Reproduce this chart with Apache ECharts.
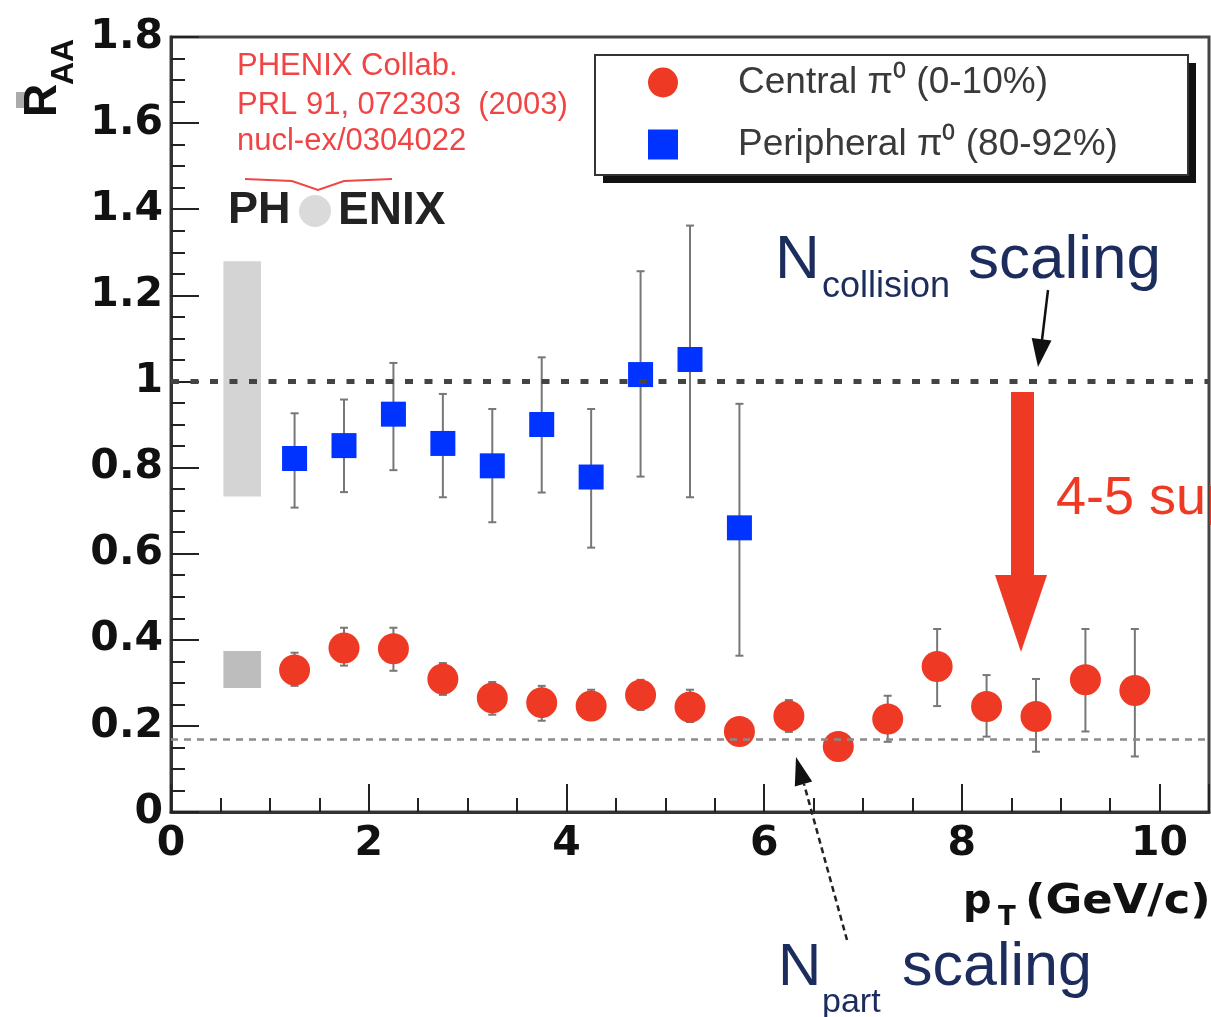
<!DOCTYPE html>
<html>
<head>
<meta charset="utf-8">
<script src="https://cdn.jsdelivr.net/npm/echarts@6/dist/echarts.min.js"></script>
<style>
html, body { margin: 0; padding: 0; background: #fff; }
#chart { width: 1211px; height: 1017px; }
</style>
</head>
<body>
<div id="chart"></div>
<script>
// pT bin centres (GeV/c)
var centralPt = [1.25, 1.75, 2.25, 2.75, 3.25, 3.75, 4.25, 4.75, 5.25, 5.75, 6.25, 6.75, 7.25, 7.75, 8.25, 8.75, 9.25, 9.75];
var centralRaa = [0.330, 0.381, 0.379, 0.309, 0.265, 0.254, 0.246, 0.272, 0.244, 0.187, 0.223, 0.152, 0.216, 0.338, 0.245, 0.222, 0.307, 0.282];
var centralLow = [0.293, 0.340, 0.328, 0.272, 0.226, 0.212, 0.214, 0.237, 0.209, 0.160, 0.186, 0.130, 0.163, 0.246, 0.175, 0.140, 0.187, 0.129];
var centralHigh = [0.370, 0.428, 0.428, 0.346, 0.302, 0.293, 0.284, 0.307, 0.284, 0.215, 0.260, 0.175, 0.270, 0.425, 0.318, 0.309, 0.425, 0.425];

var periphPt = [1.25, 1.75, 2.25, 2.75, 3.25, 3.75, 4.25, 4.75, 5.25, 5.75];
var periphRaa = [0.821, 0.851, 0.924, 0.856, 0.804, 0.900, 0.778, 1.016, 1.051, 0.660];
var periphLow = [0.707, 0.743, 0.794, 0.731, 0.673, 0.742, 0.614, 0.779, 0.731, 0.363];
var periphHigh = [0.926, 0.958, 1.043, 0.971, 0.936, 1.056, 0.936, 1.256, 1.362, 0.948];

// normalisation uncertainty boxes: [xFrom, xTo, yFrom, yTo]
var sysBoxes = [[0.53, 0.91, 0.733, 1.279], [0.53, 0.91, 0.288, 0.374]];

var nCollLevel = 1;
var nPartLevel = 0.165;
var xTickValues = [0, 2, 4, 6, 8, 10];

var centralName = 'Central π⁰ (0-10%)';
var periphName = 'Peripheral π⁰ (80-92%)';

var chart = echarts.init(document.getElementById('chart'));

function zip3(a, b, c) {
  return a.map(function (v, i) { return [v, b[i], c[i]]; });
}

function errorBar(params, api) {
  var x = api.value(0);
  var lo = api.coord([x, api.value(1)]);
  var hi = api.coord([x, api.value(2)]);
  var cap = 4;
  var st = { stroke: '#777', lineWidth: 2 };
  return {
    type: 'group',
    children: [
      { type: 'line', shape: { x1: lo[0], y1: lo[1], x2: hi[0], y2: hi[1] }, style: st },
      { type: 'line', shape: { x1: lo[0] - cap, y1: lo[1], x2: lo[0] + cap, y2: lo[1] }, style: st },
      { type: 'line', shape: { x1: hi[0] - cap, y1: hi[1], x2: hi[0] + cap, y2: hi[1] }, style: st }
    ]
  };
}

var boxColors = ['#d4d4d4', '#bdbdbd'];
function sysBox(params, api) {
  var p0 = api.coord([api.value(0), api.value(3)]);
  var p1 = api.coord([api.value(1), api.value(2)]);
  return {
    type: 'rect',
    shape: { x: p0[0], y: p0[1], width: p1[0] - p0[0], height: p1[1] - p0[1] },
    style: { fill: boxColors[params.dataIndex] }
  };
}

var labelFont = { fontFamily: 'DejaVu Sans', fontWeight: 'bold', fontSize: 41, color: '#111' };
var tickStyle = { color: '#222', width: 2 };

var option = {
  animation: false,
  grid: {
    left: 171, right: 2, top: 37, bottom: 205,
    show: true, borderColor: '#444', borderWidth: 3,
    outerBoundsMode: 'none'
  },
  legend: {
    orient: 'vertical',
    left: 643, top: 59,
    itemWidth: 60, itemHeight: 30, itemGap: 25,
    selectedMode: false,
    z: 6,
    textStyle: { fontFamily: 'Liberation Sans', fontSize: 37, color: '#3a3a3a', lineHeight: 30, padding: [0, 0, 0, 40] },
    data: [
      { name: centralName, icon: 'circle' },
      { name: periphName, icon: 'path://M0,0L10,0L10,10L0,10Z' }
    ]
  },
  xAxis: [
    {
      type: 'value', min: 0, max: 10.5, interval: 2, position: 'bottom',
      axisLine: { show: true, onZero: false, lineStyle: { color: '#333', width: 3 } },
      axisTick: { show: true, inside: true, length: 28, lineStyle: tickStyle },
      axisLabel: Object.assign({
        margin: 12,
        formatter: function (v) { return xTickValues.indexOf(v) >= 0 ? String(v) : ''; }
      }, labelFont),
      splitLine: { show: false }
    },
    {
      type: 'value', min: 0, max: 10.5, interval: 0.5, position: 'bottom',
      axisLine: { show: false },
      axisTick: { show: true, inside: true, length: 14, lineStyle: tickStyle },
      axisLabel: { show: false },
      splitLine: { show: false }
    }
  ],
  yAxis: {
    type: 'value', min: 0, max: 1.8, interval: 0.2,
    axisLine: { show: true, onZero: false, lineStyle: { color: '#333', width: 3 } },
    axisTick: { show: true, inside: true, length: 28, lineStyle: tickStyle },
    minorTick: { show: true, splitNumber: 4, length: 14, lineStyle: tickStyle },
    axisLabel: Object.assign({
      margin: 8,
      formatter: function (v) { return String(+v.toFixed(1)); }
    }, labelFont),
    splitLine: { show: false }
  },
  series: [
    {
      type: 'custom', renderItem: sysBox, silent: true, z: 1,
      data: sysBoxes
    },
    {
      type: 'line', data: [], silent: true, z: 2,
      markLine: {
        silent: true, symbol: ['none', 'none'], label: { show: false },
        data: [
          { yAxis: nCollLevel, lineStyle: { color: '#444', width: 5, type: [8, 11.5] } },
          { yAxis: nPartLevel, lineStyle: { color: '#8a8a8a', width: 2.5, type: [7, 6] } }
        ]
      }
    },
    {
      type: 'custom', renderItem: errorBar, silent: true, z: 3,
      encode: { x: 0, y: [1, 2] },
      data: zip3(periphPt, periphLow, periphHigh)
    },
    {
      type: 'custom', renderItem: errorBar, silent: true, z: 3,
      encode: { x: 0, y: [1, 2] },
      data: zip3(centralPt, centralLow, centralHigh)
    },
    {
      name: periphName, type: 'scatter', symbol: 'rect', symbolSize: 25, z: 4,
      itemStyle: { color: '#0033ff', opacity: 1 },
      data: periphPt.map(function (x, i) { return [x, periphRaa[i]]; })
    },
    {
      name: centralName, type: 'scatter', symbol: 'circle', symbolSize: 31, z: 4,
      itemStyle: { color: '#ee3a24', opacity: 1 },
      data: centralPt.map(function (x, i) { return [x, centralRaa[i]]; })
    }
  ],
  graphic: [
    // legend frame with drop shadow
    { type: 'rect', z: 5, shape: { x: 603, y: 63, width: 593, height: 120 }, style: { fill: '#111' } },
    { type: 'rect', z: 5, shape: { x: 595, y: 55, width: 593, height: 120 },
      style: { fill: '#fff', stroke: '#333', lineWidth: 2 } },
    // y axis title
    { type: 'rect', z: 5, shape: { x: 16, y: 92, width: 9, height: 16 }, style: { fill: '#aaa' } },
    { type: 'text', z: 5, x: 43, y: 117, rotation: Math.PI / 2,
      style: { text: 'R', fontFamily: 'Liberation Sans', fontWeight: 'bold', fontSize: 46, fill: '#111', align: 'left', verticalAlign: 'middle' } },
    { type: 'text', z: 5, x: 64, y: 85, rotation: Math.PI / 2,
      style: { text: 'AA', fontFamily: 'Liberation Sans', fontWeight: 'bold', fontSize: 32, fill: '#111', align: 'left', verticalAlign: 'middle' } },
    // x axis title
    { type: 'text', z: 5, x: 963, y: 903,
      style: { text: 'p', fontFamily: 'DejaVu Sans', fontWeight: 'bold', fontSize: 40, fill: '#111', verticalAlign: 'middle' } },
    { type: 'text', z: 5, x: 998, y: 918,
      style: { text: 'T', fontFamily: 'DejaVu Sans', fontWeight: 'bold', fontSize: 26, fill: '#111', verticalAlign: 'middle' } },
    { type: 'text', z: 5, x: 1025, y: 903, scaleX: 1.12,
      style: { text: '(GeV/c)', fontFamily: 'DejaVu Sans', fontWeight: 'bold', fontSize: 40, fill: '#111', verticalAlign: 'middle' } },
    // collaboration reference
    { type: 'text', z: 5, x: 237, y: 66,
      style: { text: 'PHENIX Collab.', fontFamily: 'Liberation Sans', fontSize: 31, fill: '#f04545', verticalAlign: 'middle' } },
    { type: 'text', z: 5, x: 237, y: 105,
      style: { text: 'PRL 91, 072303  (2003)', fontFamily: 'Liberation Sans', fontSize: 31, fill: '#f04545', verticalAlign: 'middle' } },
    { type: 'text', z: 5, x: 237, y: 141,
      style: { text: 'nucl-ex/0304022', fontFamily: 'Liberation Sans', fontSize: 31, fill: '#f04545', verticalAlign: 'middle' } },
    { type: 'polyline', z: 5, shape: { points: [[245, 179], [292, 181], [318, 190], [344, 181], [392, 179]] },
      style: { stroke: '#f04545', lineWidth: 2, fill: null } },
    // PHENIX logo
    { type: 'text', z: 5, x: 228, y: 211,
      style: { text: 'PH', fontFamily: 'Liberation Sans', fontWeight: 'bold', fontSize: 45, fill: '#222', verticalAlign: 'middle' } },
    { type: 'circle', z: 5, shape: { cx: 315, cy: 211, r: 16 }, style: { fill: '#dadada' } },
    { type: 'text', z: 5, x: 338, y: 211,
      style: { text: 'ENIX', fontFamily: 'Liberation Sans', fontWeight: 'bold', fontSize: 46, fill: '#222', verticalAlign: 'middle' } },
    // N_collision scaling
    { type: 'text', z: 5, x: 775, y: 261,
      style: { text: 'N', fontFamily: 'Liberation Sans', fontSize: 62, fill: '#1c2c5c', verticalAlign: 'middle' } },
    { type: 'text', z: 5, x: 822, y: 287,
      style: { text: 'collision', fontFamily: 'Liberation Sans', fontSize: 36, fill: '#1c2c5c', verticalAlign: 'middle' } },
    { type: 'text', z: 5, x: 968, y: 261,
      style: { text: 'scaling', fontFamily: 'Liberation Sans', fontSize: 62, fill: '#1c2c5c', verticalAlign: 'middle' } },
    { type: 'line', z: 5, shape: { x1: 1048, y1: 290, x2: 1042, y2: 340 }, style: { stroke: '#111', lineWidth: 2.5 } },
    { type: 'polygon', z: 5, shape: { points: [[1051.5, 340.5], [1031.7, 337.9], [1038, 367]] }, style: { fill: '#111' } },
    // N_part scaling
    { type: 'text', z: 5, x: 778, y: 968,
      style: { text: 'N', fontFamily: 'Liberation Sans', fontSize: 60, fill: '#1c2c5c', verticalAlign: 'middle' } },
    { type: 'text', z: 5, x: 822, y: 1003,
      style: { text: 'part', fontFamily: 'Liberation Sans', fontSize: 34, fill: '#1c2c5c', verticalAlign: 'middle' } },
    { type: 'text', z: 5, x: 902, y: 968,
      style: { text: 'scaling', fontFamily: 'Liberation Sans', fontSize: 61, fill: '#1c2c5c', verticalAlign: 'middle' } },
    { type: 'line', z: 5, shape: { x1: 847, y1: 940, x2: 804, y2: 784 }, style: { stroke: '#222', lineWidth: 2.5, lineDash: [6, 4] } },
    { type: 'polygon', z: 5, shape: { points: [[812.2, 781.6], [794.8, 786.4], [796, 757]] }, style: { fill: '#111' } },
    // suppression arrow
    { type: 'rect', z: 5, shape: { x: 1011, y: 392, width: 23, height: 186 }, style: { fill: '#ee3a24' } },
    { type: 'polygon', z: 5, shape: { points: [[995, 575], [1047, 575], [1021, 652]] }, style: { fill: '#ee3a24' } },
    { type: 'text', z: 5, x: 1056, y: 499,
      style: { text: '4-5 suppression', fontFamily: 'Liberation Sans', fontSize: 54, fill: '#ee3a24', verticalAlign: 'middle' } }
  ]
};

chart.setOption(option);
</script>
</body>
</html>
